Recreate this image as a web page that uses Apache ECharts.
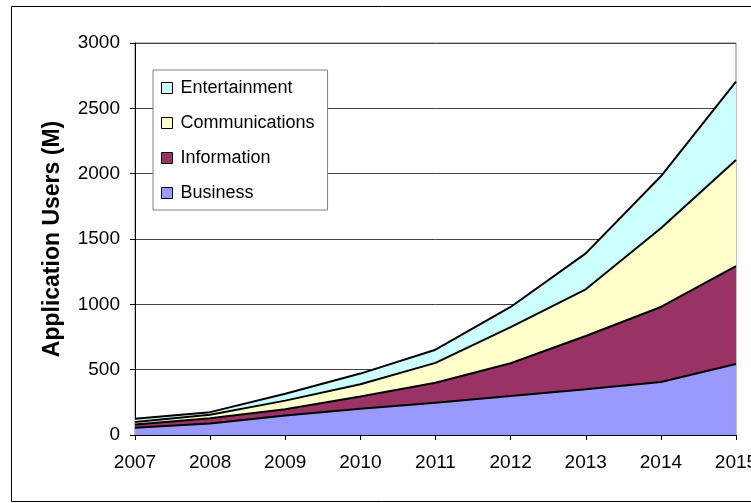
<!DOCTYPE html>
<html>
<head>
<meta charset="utf-8">
<script src="https://cdn.jsdelivr.net/npm/echarts@6/dist/echarts.min.js"></script>
<style>
html,body{margin:0;padding:0;background:#fff;}
#chart{width:751px;height:503px;}
</style>
</head>
<body>
<div id="chart"></div>
<script>
var years = ['2007','2008','2009','2010','2011','2012','2013','2014','2015'];
var business = [55, 88, 150, 200, 247, 298, 350, 405, 543];
var information = [25, 40, 47, 95, 153, 251, 408, 575, 750];
var communications = [20, 27, 66, 93, 152, 277, 357, 602, 811];
var entertainment = [25, 20, 52, 82, 101, 154, 275, 398, 600];
var legendOrder = ['Entertainment', 'Communications', 'Information', 'Business'];
var yTitle = 'Application Users (M)';

var FONT = '"Liberation Sans", Arial, sans-serif';
function areaSeries(name, data, color) {
  return {
    name: name,
    type: 'line',
    stack: 'total',
    data: data,
    symbol: 'none',
    showSymbol: false,
    lineStyle: {color: '#000', width: 2},
    areaStyle: {color: color, opacity: 1},
    itemStyle: {color: color},
    emphasis: {disabled: true}
  };
}

var chart = echarts.init(document.getElementById('chart'), null, {renderer: 'canvas'});
chart.setOption({
  animation: false,
  backgroundColor: '#fff',
  grid: {left: 135, top: 43, width: 601, height: 392, show: true, borderColor: '#808080', borderWidth: 1,
         backgroundColor: 'transparent', containLabel: false, outerBoundsMode: 'none'},
  legend: {
    data: legendOrder,
    orient: 'vertical',
    left: 153,
    top: 70,
    icon: 'rect',
    itemWidth: 11,
    itemHeight: 11,
    itemGap: 17,
    padding: [9, 13, 8, 8],
    backgroundColor: '#fff',
    borderColor: '#808080',
    borderWidth: 1,
    itemStyle: {borderColor: '#000', borderWidth: 1},
    textStyle: {fontFamily: FONT, fontSize: 18, color: '#000', lineHeight: 18, padding: [0, 0, 0, 3]}
  },
  xAxis: {
    type: 'category',
    data: years,
    boundaryGap: false,
    axisLine: {lineStyle: {color: '#000', width: 1}},
    axisTick: {show: true, length: 5, lineStyle: {color: '#000'}},
    axisLabel: {fontFamily: FONT, fontSize: 19, color: '#000', margin: 18, interval: 0},
    splitLine: {show: false}
  },
  yAxis: {
    type: 'value',
    min: 0,
    max: 3000,
    interval: 500,
    name: yTitle,
    nameLocation: 'middle',
    nameGap: 71,
    nameTextStyle: {fontFamily: FONT, fontSize: 23, fontWeight: 'bold', color: '#000'},
    axisLine: {show: true, lineStyle: {color: '#000', width: 1}},
    axisTick: {show: true, length: 5, lineStyle: {color: '#000'}},
    axisLabel: {fontFamily: FONT, fontSize: 19, color: '#000', margin: 15, formatter: function (v) { return String(v); }},
    splitLine: {show: true, lineStyle: {color: '#444', width: 1}}
  },
  series: [
    areaSeries('Business', business, '#9999FF'),
    areaSeries('Information', information, '#993366'),
    areaSeries('Communications', communications, '#FFFFCC'),
    areaSeries('Entertainment', entertainment, '#CCFFFF')
  ],
  graphic: [{
    type: 'rect',
    silent: true,
    z: 100,
    shape: {x: 11.5, y: 6.5, width: 760, height: 495},
    style: {fill: 'none', stroke: '#000', lineWidth: 1}
  }]
});
</script>
</body>
</html>
